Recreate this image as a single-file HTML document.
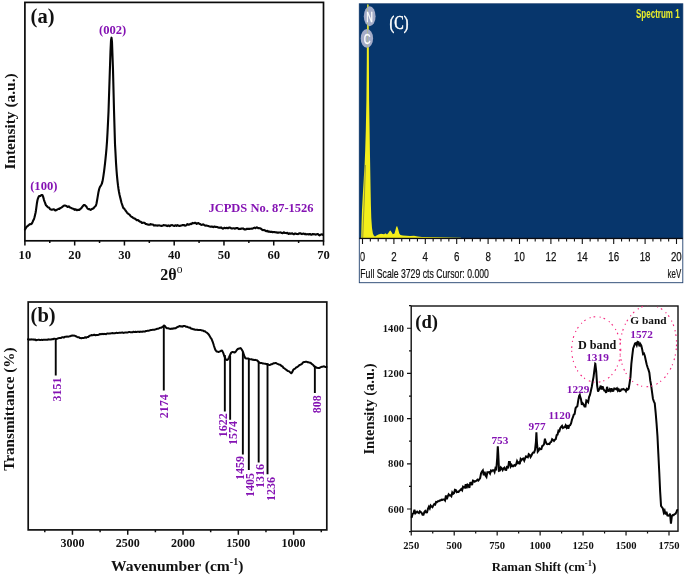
<!DOCTYPE html>
<html><head><meta charset="utf-8"><title>Figure</title>
<style>
html,body{margin:0;padding:0;background:#fff;}
body{width:685px;height:576px;overflow:hidden;}
svg{display:block;filter:blur(0.3px);}
text{font-family:"Liberation Serif",serif;font-weight:bold;fill:#111;}
.p{fill:#8412b3;}
.s{font-family:"Liberation Sans",sans-serif;font-weight:normal;}
</style></head><body>
<svg width="685" height="576" viewBox="0 0 685 576">
<rect width="685" height="576" fill="#ffffff"/>

<!-- panel a -->
<rect x="24.9" y="2.4" width="298.60" height="238.40" fill="none" stroke="#0a0a0a" stroke-width="1.7"/>
<path d="M24.90,240.8v4.8 M49.78,240.8v2.2 M74.67,240.8v4.8 M99.55,240.8v2.2 M124.43,240.8v4.8 M149.32,240.8v2.2 M174.20,240.8v4.8 M199.08,240.8v2.2 M223.97,240.8v4.8 M248.85,240.8v2.2 M273.73,240.8v4.8 M298.62,240.8v2.2 M323.50,240.8v4.8" stroke="#0a0a0a" stroke-width="1.5" fill="none"/>
<text x="24.90" y="259" font-size="12.6" text-anchor="middle">10</text>
<text x="74.67" y="259" font-size="12.6" text-anchor="middle">20</text>
<text x="124.43" y="259" font-size="12.6" text-anchor="middle">30</text>
<text x="174.20" y="259" font-size="12.6" text-anchor="middle">40</text>
<text x="223.97" y="259" font-size="12.6" text-anchor="middle">50</text>
<text x="273.73" y="259" font-size="12.6" text-anchor="middle">60</text>
<text x="323.50" y="259" font-size="12.6" text-anchor="middle">70</text>
<path d="M25.00,229.46 L25.50,228.73 L26.00,227.77 L26.50,226.92 L27.00,226.51 L27.50,226.19 L28.00,225.69 L28.50,225.23 L29.00,224.88 L29.50,224.41 L30.00,224.10 L30.50,224.20 L31.00,224.24 L31.50,223.92 L32.00,223.14 L32.50,222.18 L33.00,221.03 L33.50,219.93 L34.00,218.92 L34.50,217.24 L35.00,215.16 L35.50,212.97 L36.00,210.20 L36.50,206.46 L37.00,202.72 L37.50,199.98 L38.00,198.35 L38.50,197.08 L39.00,196.23 L39.50,195.95 L40.00,196.10 L40.50,195.96 L41.00,195.29 L41.50,195.00 L42.00,195.00 L42.50,195.27 L43.00,196.36 L43.50,198.10 L44.00,200.04 L44.50,201.44 L45.00,202.69 L45.50,204.24 L46.00,205.18 L46.50,205.67 L47.00,206.32 L47.50,206.82 L48.00,207.19 L48.50,207.43 L49.00,207.57 L49.50,208.23 L50.00,209.03 L50.50,209.38 L51.00,209.58 L51.50,209.80 L52.00,209.72 L52.50,209.51 L53.00,209.49 L53.50,209.36 L54.00,209.32 L54.50,209.62 L55.00,210.25 L55.50,210.44 L56.00,210.23 L56.50,210.07 L57.00,209.67 L57.50,209.41 L58.00,209.17 L58.50,208.83 L59.00,208.96 L59.50,208.86 L60.00,208.25 L60.50,207.90 L61.00,207.75 L61.50,207.56 L62.00,207.14 L62.50,206.69 L63.00,206.36 L63.50,205.84 L64.00,205.56 L64.50,205.59 L65.00,205.44 L65.50,205.64 L66.00,205.94 L66.50,205.99 L67.00,206.41 L67.50,206.86 L68.00,206.84 L68.50,206.49 L69.00,206.38 L69.50,206.89 L70.00,207.44 L70.50,207.64 L71.00,207.87 L71.50,208.19 L72.00,208.33 L72.50,208.59 L73.00,208.81 L73.50,208.76 L74.00,209.16 L74.50,209.82 L75.00,209.69 L75.50,209.29 L76.00,209.51 L76.50,209.99 L77.00,210.21 L77.50,210.05 L78.00,209.82 L78.50,209.86 L79.00,210.01 L79.50,209.76 L80.00,209.24 L80.50,208.82 L81.00,208.49 L81.50,207.97 L82.00,207.17 L82.50,206.54 L83.00,206.02 L83.50,205.31 L84.00,204.94 L84.50,205.06 L85.00,205.26 L85.50,205.70 L86.00,206.17 L86.50,206.77 L87.00,207.76 L87.50,208.48 L88.00,208.86 L88.50,209.12 L89.00,209.14 L89.50,209.14 L90.00,209.51 L90.50,209.91 L91.00,209.68 L91.50,209.26 L92.00,209.07 L92.50,208.75 L93.00,208.55 L93.50,208.42 L94.00,207.74 L94.50,206.94 L95.00,206.52 L95.50,206.10 L96.00,205.16 L96.50,203.45 L97.00,200.81 L97.50,197.92 L98.00,194.81 L98.50,191.89 L99.00,189.80 L99.50,188.06 L100.00,186.87 L100.50,186.12 L101.00,185.26 L101.50,184.42 L102.00,183.28 L102.50,181.35 L103.00,178.59 L103.50,175.44 L104.00,171.91 L104.50,167.91 L105.00,163.54 L105.50,158.87 L106.00,153.96 L106.50,148.37 L107.00,141.58 L107.50,132.73 L108.00,122.63 L108.50,112.01 L109.00,96.57 L109.50,81.18 L110.00,66.03 L110.50,50.98 L111.00,40.45 L111.50,37.67 L112.00,41.94 L112.50,55.89 L113.00,69.90 L113.50,89.99 L114.00,110.06 L114.50,127.10 L115.00,144.11 L115.50,153.01 L116.00,162.60 L116.50,170.04 L117.00,176.10 L117.50,181.13 L118.00,185.43 L118.50,189.00 L119.00,192.02 L119.50,194.51 L120.00,196.64 L120.50,198.63 L121.00,200.71 L121.50,202.70 L122.00,204.24 L122.50,205.70 L123.00,207.23 L123.50,208.11 L124.00,208.46 L124.50,208.99 L125.00,209.76 L125.50,210.49 L126.00,211.12 L126.50,211.78 L127.00,212.51 L127.50,213.18 L128.00,213.58 L128.50,213.83 L129.00,214.23 L129.50,214.59 L130.00,215.23 L130.50,215.94 L131.00,216.36 L131.50,216.76 L132.00,216.94 L132.50,217.27 L133.00,217.79 L133.50,218.06 L134.00,218.32 L134.50,218.54 L135.00,218.77 L135.50,219.04 L136.00,219.49 L136.50,219.99 L137.00,220.30 L137.50,220.24 L138.00,219.96 L138.50,220.38 L139.00,220.97 L139.50,221.23 L140.00,221.64 L140.50,221.82 L141.00,221.86 L141.50,222.44 L142.00,223.01 L142.50,222.89 L143.00,222.67 L143.50,222.71 L144.00,222.72 L144.50,222.72 L145.00,223.26 L145.50,223.99 L146.00,224.06 L146.50,223.98 L147.00,224.27 L147.50,224.49 L148.00,224.58 L148.50,224.80 L149.00,224.76 L149.50,224.73 L150.00,224.61 L150.50,224.12 L151.00,224.22 L151.50,224.55 L152.00,224.51 L152.50,224.55 L153.00,224.58 L153.50,224.98 L154.00,225.59 L154.50,225.46 L155.00,225.27 L155.50,225.39 L156.00,225.37 L156.50,225.44 L157.00,225.66 L157.50,225.59 L158.00,225.33 L158.50,225.46 L159.00,225.47 L159.50,225.40 L160.00,225.58 L160.50,225.68 L161.00,225.91 L161.50,225.94 L162.00,225.76 L162.50,225.71 L163.00,225.48 L163.50,225.13 L164.00,225.16 L164.50,225.31 L165.00,225.39 L165.50,225.48 L166.00,225.40 L166.50,225.43 L167.00,225.95 L167.50,226.09 L168.00,225.59 L168.50,225.42 L169.00,225.69 L169.50,226.09 L170.00,226.05 L170.50,225.50 L171.00,225.25 L171.50,225.23 L172.00,225.10 L172.50,225.20 L173.00,225.44 L173.50,225.63 L174.00,226.01 L174.50,225.95 L175.00,225.41 L175.50,225.22 L176.00,225.56 L176.50,225.82 L177.00,225.44 L177.50,225.18 L178.00,225.50 L178.50,225.64 L179.00,225.72 L179.50,225.97 L180.00,225.93 L180.50,225.66 L181.00,225.46 L181.50,225.49 L182.00,225.30 L182.50,225.08 L183.00,225.17 L183.50,225.16 L184.00,225.09 L184.50,225.29 L185.00,225.65 L185.50,225.62 L186.00,225.46 L186.50,225.16 L187.00,224.42 L187.50,224.05 L188.00,224.43 L188.50,224.73 L189.00,224.62 L189.50,224.56 L190.00,224.24 L190.50,223.74 L191.00,223.95 L191.50,224.15 L192.00,223.47 L192.50,222.93 L193.00,223.07 L193.50,223.24 L194.00,223.17 L194.50,223.00 L195.00,222.75 L195.50,222.69 L196.00,223.30 L196.50,223.91 L197.00,223.70 L197.50,223.33 L198.00,223.15 L198.50,223.11 L199.00,223.60 L199.50,223.95 L200.00,223.99 L200.50,224.32 L201.00,224.66 L201.50,224.85 L202.00,224.87 L202.50,224.64 L203.00,224.32 L203.50,224.43 L204.00,224.88 L204.50,225.21 L205.00,225.51 L205.50,225.66 L206.00,225.44 L206.50,225.47 L207.00,225.70 L207.50,225.83 L208.00,225.92 L208.50,226.09 L209.00,226.33 L209.50,226.43 L210.00,226.53 L210.50,226.70 L211.00,226.68 L211.50,226.48 L212.00,226.56 L212.50,226.73 L213.00,226.97 L213.50,227.08 L214.00,226.69 L214.50,226.49 L215.00,226.77 L215.50,226.93 L216.00,226.89 L216.50,227.02 L217.00,227.03 L217.50,227.07 L218.00,227.44 L218.50,227.67 L219.00,227.62 L219.50,227.66 L220.00,227.84 L220.50,227.62 L221.00,227.33 L221.50,227.65 L222.00,228.15 L222.50,228.54 L223.00,228.70 L223.50,228.38 L224.00,227.92 L224.50,227.70 L225.00,227.89 L225.50,228.21 L226.00,228.12 L226.50,227.78 L227.00,227.83 L227.50,228.20 L228.00,228.31 L228.50,227.96 L229.00,227.58 L229.50,227.53 L230.00,227.61 L230.50,227.81 L231.00,228.22 L231.50,228.46 L232.00,228.52 L232.50,228.45 L233.00,228.26 L233.50,228.22 L234.00,228.25 L234.50,228.45 L235.00,228.69 L235.50,228.36 L236.00,228.00 L236.50,228.15 L237.00,228.16 L237.50,228.02 L238.00,228.32 L238.50,228.94 L239.00,229.08 L239.50,228.84 L240.00,228.98 L240.50,228.94 L241.00,228.56 L241.50,228.57 L242.00,228.75 L242.50,228.60 L243.00,228.38 L243.50,228.65 L244.00,229.18 L244.50,229.49 L245.00,229.41 L245.50,229.24 L246.00,229.36 L246.50,229.08 L247.00,228.68 L247.50,228.78 L248.00,228.84 L248.50,228.80 L249.00,228.88 L249.50,228.98 L250.00,228.81 L250.50,228.68 L251.00,228.80 L251.50,228.66 L252.00,228.58 L252.50,228.67 L253.00,228.40 L253.50,228.09 L254.00,227.89 L254.50,227.68 L255.00,227.95 L255.50,228.19 L256.00,227.81 L256.50,227.46 L257.00,227.30 L257.50,227.57 L258.00,228.18 L258.50,228.27 L259.00,228.09 L259.50,228.17 L260.00,228.29 L260.50,228.45 L261.00,228.70 L261.50,229.10 L262.00,229.67 L262.50,230.07 L263.00,230.16 L263.50,229.99 L264.00,229.92 L264.50,230.12 L265.00,230.42 L265.50,230.85 L266.00,231.15 L266.50,231.16 L267.00,230.88 L267.50,230.87 L268.00,231.51 L268.50,231.70 L269.00,231.35 L269.50,231.61 L270.00,231.84 L270.50,231.82 L271.00,232.03 L271.50,231.83 L272.00,231.75 L272.50,232.18 L273.00,232.15 L273.50,232.03 L274.00,232.00 L274.50,232.01 L275.00,232.32 L275.50,232.33 L276.00,232.25 L276.50,232.37 L277.00,232.60 L277.50,232.66 L278.00,232.55 L278.50,232.65 L279.00,232.58 L279.50,232.44 L280.00,232.45 L280.50,232.38 L281.00,232.58 L281.50,232.93 L282.00,233.07 L282.50,233.20 L283.00,233.04 L283.50,232.54 L284.00,232.33 L284.50,232.67 L285.00,233.05 L285.50,233.04 L286.00,233.06 L286.50,233.11 L287.00,232.76 L287.50,232.75 L288.00,233.43 L288.50,233.91 L289.00,233.60 L289.50,233.27 L290.00,233.53 L290.50,233.81 L291.00,233.75 L291.50,233.44 L292.00,233.32 L292.50,233.55 L293.00,233.90 L293.50,234.30 L294.00,234.25 L294.50,233.68 L295.00,233.47 L295.50,233.60 L296.00,233.72 L296.50,233.90 L297.00,233.99 L297.50,234.08 L298.00,234.16 L298.50,233.85 L299.00,233.41 L299.50,233.27 L300.00,233.36 L300.50,233.34 L301.00,233.47 L301.50,233.95 L302.00,234.09 L302.50,233.85 L303.00,233.61 L303.50,233.49 L304.00,233.92 L304.50,234.20 L305.00,233.86 L305.50,234.03 L306.00,234.41 L306.50,234.29 L307.00,234.25 L307.50,234.24 L308.00,234.13 L308.50,234.42 L309.00,234.54 L309.50,234.09 L310.00,233.97 L310.50,234.33 L311.00,234.70 L311.50,234.82 L312.00,234.55 L312.50,234.10 L313.00,234.00 L313.50,234.30 L314.00,234.33 L314.50,234.14 L315.00,234.28 L315.50,234.58 L316.00,234.55 L316.50,234.34 L317.00,234.27 L317.50,234.14 L318.00,234.16 L318.50,234.53 L319.00,235.18 L319.50,235.45 L320.00,234.97 L320.50,234.73 L321.00,234.60 L321.50,234.36 L322.00,234.35 L322.50,234.48 L323.00,234.93" fill="none" stroke="#050505" stroke-width="2.1" stroke-linejoin="round" stroke-linecap="round"/>
<text x="30.6" y="23" font-size="20.5">(a)</text>
<text class="p" x="112.6" y="33.6" font-size="12.6" text-anchor="middle">(002)</text>
<text class="p" x="43.8" y="190" font-size="12.6" text-anchor="middle">(100)</text>
<text class="p" x="208.4" y="211.6" font-size="13.3" textLength="105.2" lengthAdjust="spacingAndGlyphs">JCPDS No. 87-1526</text>
<text x="171.4" y="279.7" font-size="16" text-anchor="middle">2θ<tspan dy="-6.8" font-size="11.5" style="font-weight:normal">o</tspan></text>
<text transform="translate(14.7,121.5) rotate(-90)" font-size="15.4" text-anchor="middle">Intensity (a.u.)</text>
<!-- panel c -->
<rect x="359.3" y="3.8" width="323.50" height="278.90" fill="#ffffff" stroke="#20406e" stroke-width="0.9"/>
<rect x="359.3" y="3.8" width="323.50" height="234.60" fill="#07366c"/>
<path d="M361.2,238.4 L361.5,225 L362.0,210 L362.8,195 L363.8,178 L364.6,165 L365.2,150 L365.8,130 L366.4,100 L366.8,60 L367.1,4.5 L368.6,4.5 L368.9,60 L369.1,100 L369.6,130 L370.0,156 L370.6,190 L370.9,205 L371.3,218 L372.0,228 L372.9,233.5 L373.8,235.6 L375,236.4 L376.5,235.6 L378.4,234.4 L381,233.8 L384,234.3 L385.5,233.2 L387,234.4 L388.5,232.8 L389.6,231 L390.5,230.6 L391.5,232 L392.8,234.2 L394.5,233.4 L395.6,229.5 L396.4,226.4 L397.2,226.2 L398.2,229.2 L399.3,233.5 L400.5,235 L403,235.6 L410,236 L414,235.8 L417.8,236.4 L422,237.0 L440,237.3 L461,237.7 L461,238.4 Z" fill="#f3ee1a"/>
<path d="M362.7,238.4 L363.5,218 L364.4,198 L365.4,165" stroke="#3a4650" stroke-width="0.6" opacity="0.8" fill="none"/>
<rect x="359.3" y="237.8" width="323.50" height="1.3" fill="#0b0b12"/>
<clipPath id="c0"><rect x="360.4" y="240" width="30" height="30"/></clipPath>
<path d="M362.50,238.4v5.6 M370.35,238.4v3.0 M378.20,238.4v3.0 M386.05,238.4v3.0 M393.90,238.4v5.6 M401.75,238.4v3.0 M409.60,238.4v3.0 M417.45,238.4v3.0 M425.30,238.4v5.6 M433.15,238.4v3.0 M441.00,238.4v3.0 M448.85,238.4v3.0 M456.70,238.4v5.6 M464.55,238.4v3.0 M472.40,238.4v3.0 M480.25,238.4v3.0 M488.10,238.4v5.6 M495.95,238.4v3.0 M503.80,238.4v3.0 M511.65,238.4v3.0 M519.50,238.4v5.6 M527.35,238.4v3.0 M535.20,238.4v3.0 M543.05,238.4v3.0 M550.90,238.4v5.6 M558.75,238.4v3.0 M566.60,238.4v3.0 M574.45,238.4v3.0 M582.30,238.4v5.6 M590.15,238.4v3.0 M598.00,238.4v3.0 M605.85,238.4v3.0 M613.70,238.4v5.6 M621.55,238.4v3.0 M629.40,238.4v3.0 M637.25,238.4v3.0 M645.10,238.4v5.6 M652.95,238.4v3.0 M660.80,238.4v3.0 M668.65,238.4v3.0 M676.50,238.4v5.6" stroke="#111" stroke-width="1.1" fill="none"/>
<text class="s" x="362.50" y="261" font-size="13.4" text-anchor="middle" textLength="5.4" stroke="#111" stroke-width="0.25" clip-path="url(#c0)" lengthAdjust="spacingAndGlyphs">0</text>
<text class="s" x="393.90" y="261" font-size="13.4" text-anchor="middle" textLength="5.4" stroke="#111" stroke-width="0.25" lengthAdjust="spacingAndGlyphs">2</text>
<text class="s" x="425.30" y="261" font-size="13.4" text-anchor="middle" textLength="5.4" stroke="#111" stroke-width="0.25" lengthAdjust="spacingAndGlyphs">4</text>
<text class="s" x="456.70" y="261" font-size="13.4" text-anchor="middle" textLength="5.4" stroke="#111" stroke-width="0.25" lengthAdjust="spacingAndGlyphs">6</text>
<text class="s" x="488.10" y="261" font-size="13.4" text-anchor="middle" textLength="5.4" stroke="#111" stroke-width="0.25" lengthAdjust="spacingAndGlyphs">8</text>
<text class="s" x="519.50" y="261" font-size="13.4" text-anchor="middle" textLength="10.8" stroke="#111" stroke-width="0.25" lengthAdjust="spacingAndGlyphs">10</text>
<text class="s" x="550.90" y="261" font-size="13.4" text-anchor="middle" textLength="10.8" stroke="#111" stroke-width="0.25" lengthAdjust="spacingAndGlyphs">12</text>
<text class="s" x="582.30" y="261" font-size="13.4" text-anchor="middle" textLength="10.8" stroke="#111" stroke-width="0.25" lengthAdjust="spacingAndGlyphs">14</text>
<text class="s" x="613.70" y="261" font-size="13.4" text-anchor="middle" textLength="10.8" stroke="#111" stroke-width="0.25" lengthAdjust="spacingAndGlyphs">16</text>
<text class="s" x="645.10" y="261" font-size="13.4" text-anchor="middle" textLength="10.8" stroke="#111" stroke-width="0.25" lengthAdjust="spacingAndGlyphs">18</text>
<text class="s" x="676.30" y="261" font-size="13.4" text-anchor="middle" textLength="10.8" stroke="#111" stroke-width="0.25" lengthAdjust="spacingAndGlyphs">20</text>
<text class="s" x="360.3" y="278.3" font-size="12.4" textLength="128.6" lengthAdjust="spacingAndGlyphs" stroke="#111" stroke-width="0.2">Full Scale 3729 cts Cursor: 0.000</text>
<text class="s" x="681.2" y="278.4" font-size="12.2" text-anchor="end" textLength="13.6" lengthAdjust="spacingAndGlyphs" stroke="#111" stroke-width="0.2">keV</text>
<text class="s" x="679.6" y="17.6" font-size="12.4" text-anchor="end" textLength="43.6" lengthAdjust="spacingAndGlyphs" style="font-weight:bold;fill:#eef02a">Spectrum 1</text>
<text x="389.5" y="29.4" font-size="18" textLength="19" lengthAdjust="spacingAndGlyphs" style="font-weight:normal;fill:#fff" stroke="#fff" stroke-width="0.5">(C)</text>
<ellipse cx="369.7" cy="16.2" rx="5.9" ry="10" fill="#a4acc8"/>
<ellipse cx="366.9" cy="38.4" rx="6.2" ry="9.4" fill="#a4acc8"/>
<path d="M367.6,4.5 L367.6,48" stroke="#b4c070" stroke-width="0.8" opacity="0.7"/>
<text class="s" x="369.6" y="22.3" font-size="14.5" text-anchor="middle" textLength="6.6" lengthAdjust="spacingAndGlyphs" style="fill:#fff" stroke="#fff" stroke-width="0.4">N</text>
<text class="s" x="367.1" y="44.3" font-size="14.5" text-anchor="middle" textLength="6.8" lengthAdjust="spacingAndGlyphs" style="fill:#fff" stroke="#fff" stroke-width="0.4">C</text>
<!-- panel b -->
<rect x="28.2" y="302.0" width="298.60" height="227.90" fill="none" stroke="#111" stroke-width="1.7"/>
<path d="M44.79,529.9v2.4 M72.44,529.9v4.8 M100.09,529.9v2.4 M127.73,529.9v4.8 M155.38,529.9v2.4 M183.03,529.9v4.8 M210.68,529.9v2.4 M238.33,529.9v4.8 M265.97,529.9v2.4 M293.62,529.9v4.8 M321.27,529.9v2.4" stroke="#111" stroke-width="1.5" fill="none"/>
<text x="72.44" y="547.2" font-size="12" text-anchor="middle">3000</text>
<text x="127.73" y="547.2" font-size="12" text-anchor="middle">2500</text>
<text x="183.03" y="547.2" font-size="12" text-anchor="middle">2000</text>
<text x="238.33" y="547.2" font-size="12" text-anchor="middle">1500</text>
<text x="293.62" y="547.2" font-size="12" text-anchor="middle">1000</text>
<path d="M28.00,339.35 L28.50,339.47 L29.00,339.67 L29.50,339.53 L30.00,339.53 L30.50,339.64 L31.00,339.42 L31.50,339.37 L32.00,339.52 L32.50,339.47 L33.00,339.41 L33.50,339.53 L34.00,339.70 L34.50,339.70 L35.00,339.53 L35.50,339.69 L36.00,340.16 L36.50,340.19 L37.00,339.91 L37.50,339.88 L38.00,339.80 L38.50,339.68 L39.00,339.71 L39.50,339.88 L40.00,340.11 L40.50,340.11 L41.00,339.93 L41.50,339.82 L42.00,339.82 L42.50,339.89 L43.00,339.90 L43.50,339.77 L44.00,339.73 L44.50,339.73 L45.00,339.72 L45.50,339.73 L46.00,339.79 L46.50,339.81 L47.00,339.77 L47.50,339.73 L48.00,339.50 L48.50,339.33 L49.00,339.39 L49.50,339.43 L50.00,339.47 L50.50,339.57 L51.00,339.53 L51.50,339.31 L52.00,339.10 L52.50,339.14 L53.00,339.26 L53.50,339.03 L54.00,338.69 L54.50,338.63 L55.00,338.79 L55.50,338.91 L56.00,338.96 L56.50,339.03 L57.00,338.83 L57.50,338.48 L58.00,338.37 L58.50,338.37 L59.00,338.15 L59.50,337.98 L60.00,338.02 L60.50,338.04 L61.00,337.99 L61.50,337.55 L62.00,337.20 L62.50,337.25 L63.00,337.29 L63.50,337.54 L64.00,337.58 L64.50,337.08 L65.00,336.67 L65.50,336.65 L66.00,336.81 L66.50,336.69 L67.00,336.47 L67.50,336.58 L68.00,336.74 L68.50,336.58 L69.00,336.41 L69.50,336.37 L70.00,336.32 L70.50,336.13 L71.00,335.82 L71.50,335.65 L72.00,335.54 L72.50,335.58 L73.00,335.70 L73.50,335.61 L74.00,335.55 L74.50,335.62 L75.00,335.87 L75.50,336.18 L76.00,336.28 L76.50,336.44 L77.00,336.80 L77.50,337.11 L78.00,337.32 L78.50,337.31 L79.00,337.35 L79.50,337.76 L80.00,338.12 L80.50,338.11 L81.00,338.15 L81.50,338.24 L82.00,338.06 L82.50,338.01 L83.00,337.99 L83.50,337.91 L84.00,337.92 L84.50,337.60 L85.00,337.20 L85.50,337.27 L86.00,337.66 L86.50,337.64 L87.00,337.13 L87.50,336.99 L88.00,337.08 L88.50,336.78 L89.00,336.27 L89.50,335.81 L90.00,335.57 L90.50,335.59 L91.00,335.45 L91.50,335.10 L92.00,335.07 L92.50,335.26 L93.00,335.15 L93.50,334.94 L94.00,334.81 L94.50,334.80 L95.00,335.00 L95.50,335.21 L96.00,335.18 L96.50,334.95 L97.00,334.86 L97.50,334.95 L98.00,334.98 L98.50,334.89 L99.00,334.64 L99.50,334.20 L100.00,334.04 L100.50,334.24 L101.00,334.24 L101.50,334.05 L102.00,333.84 L102.50,333.88 L103.00,334.16 L103.50,334.06 L104.00,333.82 L104.50,333.88 L105.00,333.96 L105.50,334.09 L106.00,334.16 L106.50,333.79 L107.00,333.48 L107.50,333.50 L108.00,333.55 L108.50,333.62 L109.00,333.63 L109.50,333.51 L110.00,333.42 L110.50,333.39 L111.00,333.36 L111.50,333.35 L112.00,333.19 L112.50,333.09 L113.00,333.16 L113.50,333.24 L114.00,333.37 L114.50,333.36 L115.00,333.23 L115.50,333.13 L116.00,332.86 L116.50,332.73 L117.00,332.93 L117.50,333.01 L118.00,332.97 L118.50,332.87 L119.00,332.79 L119.50,332.72 L120.00,332.62 L120.50,332.72 L121.00,332.79 L121.50,332.61 L122.00,332.43 L122.50,332.51 L123.00,332.74 L123.50,332.89 L124.00,332.84 L124.50,332.60 L125.00,332.47 L125.50,332.57 L126.00,332.54 L126.50,332.49 L127.00,332.60 L127.50,332.60 L128.00,332.40 L128.50,332.14 L129.00,331.98 L129.50,331.97 L130.00,332.15 L130.50,332.32 L131.00,332.37 L131.50,332.25 L132.00,332.28 L132.50,332.35 L133.00,332.00 L133.50,331.73 L134.00,331.89 L134.50,332.03 L135.00,331.95 L135.50,331.79 L136.00,331.85 L136.50,332.02 L137.00,331.83 L137.50,331.64 L138.00,331.68 L138.50,331.67 L139.00,331.80 L139.50,331.93 L140.00,331.78 L140.50,331.65 L141.00,331.62 L141.50,331.68 L142.00,331.81 L142.50,331.75 L143.00,331.51 L143.50,331.39 L144.00,331.52 L144.50,331.64 L145.00,331.52 L145.50,331.23 L146.00,331.08 L146.50,331.10 L147.00,330.84 L147.50,330.65 L148.00,330.74 L148.50,330.78 L149.00,330.65 L149.50,330.45 L150.00,330.33 L150.50,330.11 L151.00,329.89 L151.50,329.88 L152.00,329.90 L152.50,329.87 L153.00,329.84 L153.50,329.82 L154.00,329.76 L154.50,329.67 L155.00,329.58 L155.50,329.34 L156.00,329.17 L156.50,329.06 L157.00,328.78 L157.50,328.70 L158.00,328.71 L158.50,328.55 L159.00,328.34 L159.50,328.02 L160.00,327.85 L160.50,327.87 L161.00,327.82 L161.50,327.57 L162.00,327.17 L162.50,326.85 L163.00,326.57 L163.50,326.00 L164.00,325.46 L164.50,325.62 L165.00,326.27 L165.50,326.84 L166.00,327.48 L166.50,328.00 L167.00,328.25 L167.50,328.31 L168.00,328.26 L168.50,328.25 L169.00,328.58 L169.50,328.80 L170.00,328.77 L170.50,328.91 L171.00,328.92 L171.50,328.65 L172.00,328.54 L172.50,328.73 L173.00,328.70 L173.50,328.48 L174.00,328.32 L174.50,328.34 L175.00,328.41 L175.50,328.23 L176.00,328.00 L176.50,327.67 L177.00,327.25 L177.50,326.87 L178.00,326.77 L178.50,326.72 L179.00,326.32 L179.50,325.94 L180.00,325.97 L180.50,326.39 L181.00,326.60 L181.50,326.34 L182.00,326.44 L182.50,326.73 L183.00,326.45 L183.50,326.02 L184.00,325.93 L184.50,325.98 L185.00,326.02 L185.50,326.28 L186.00,326.72 L186.50,326.81 L187.00,326.77 L187.50,326.98 L188.00,327.23 L188.50,327.42 L189.00,327.65 L189.50,327.64 L190.00,327.49 L190.50,327.93 L191.00,328.56 L191.50,328.72 L192.00,328.66 L192.50,328.85 L193.00,329.15 L193.50,329.17 L194.00,329.32 L194.50,329.62 L195.00,329.66 L195.50,329.70 L196.00,329.77 L196.50,329.73 L197.00,329.65 L197.50,329.81 L198.00,330.02 L198.50,329.97 L199.00,329.95 L199.50,329.95 L200.00,330.06 L200.50,330.09 L201.00,330.11 L201.50,330.37 L202.00,330.53 L202.50,330.52 L203.00,330.51 L203.50,330.87 L204.00,331.29 L204.50,331.27 L205.00,331.35 L205.50,331.75 L206.00,332.11 L206.50,332.43 L207.00,332.82 L207.50,333.28 L208.00,333.82 L208.50,334.26 L209.00,334.86 L209.50,335.67 L210.00,336.60 L210.50,337.53 L211.00,338.15 L211.50,338.85 L212.00,340.04 L212.50,341.40 L213.00,342.71 L213.50,344.29 L214.00,346.03 L214.50,347.55 L215.00,349.04 L215.50,350.08 L216.00,350.79 L216.50,351.48 L217.00,351.62 L217.50,351.56 L218.00,351.77 L218.50,351.92 L219.00,351.77 L219.50,351.60 L220.00,351.42 L220.50,351.07 L221.00,350.79 L221.50,350.57 L222.00,350.60 L222.50,351.37 L223.00,352.44 L223.50,353.58 L224.00,355.16 L224.50,356.55 L225.00,357.57 L225.50,358.74 L226.00,359.59 L226.50,359.90 L227.00,360.12 L227.50,359.93 L228.00,359.18 L228.50,358.39 L229.00,357.36 L229.50,356.18 L230.00,355.10 L230.50,354.02 L231.00,353.00 L231.50,352.39 L232.00,352.16 L232.50,352.07 L233.00,352.07 L233.50,352.18 L234.00,352.31 L234.50,352.48 L235.00,352.32 L235.50,351.80 L236.00,351.24 L236.50,350.53 L237.00,349.69 L237.50,349.23 L238.00,349.01 L238.50,348.62 L239.00,348.55 L239.50,348.58 L240.00,348.24 L240.50,348.10 L241.00,348.49 L241.50,349.21 L242.00,350.03 L242.50,350.86 L243.00,351.90 L243.50,353.51 L244.00,355.20 L244.50,356.51 L245.00,357.67 L245.50,358.35 L246.00,358.41 L246.50,358.46 L247.00,358.47 L247.50,358.54 L248.00,358.62 L248.50,358.61 L249.00,358.92 L249.50,359.28 L250.00,359.37 L250.50,359.28 L251.00,359.17 L251.50,359.27 L252.00,359.51 L252.50,359.76 L253.00,359.81 L253.50,359.79 L254.00,359.98 L254.50,359.98 L255.00,359.86 L255.50,359.90 L256.00,360.10 L256.50,360.22 L257.00,360.32 L257.50,360.74 L258.00,361.26 L258.50,361.79 L259.00,362.26 L259.50,362.61 L260.00,362.96 L260.50,363.14 L261.00,363.05 L261.50,362.96 L262.00,363.15 L262.50,363.41 L263.00,363.45 L263.50,363.45 L264.00,363.55 L264.50,363.62 L265.00,363.80 L265.50,363.84 L266.00,363.91 L266.50,364.14 L267.00,364.09 L267.50,364.20 L268.00,364.54 L268.50,364.76 L269.00,364.91 L269.50,365.02 L270.00,364.96 L270.50,364.67 L271.00,364.36 L271.50,364.30 L272.00,364.19 L272.50,363.88 L273.00,363.58 L273.50,363.30 L274.00,363.13 L274.50,363.18 L275.00,363.19 L275.50,362.96 L276.00,363.02 L276.50,363.38 L277.00,363.62 L277.50,363.86 L278.00,364.08 L278.50,364.27 L279.00,364.48 L279.50,364.66 L280.00,364.75 L280.50,364.94 L281.00,365.53 L281.50,366.07 L282.00,366.19 L282.50,366.46 L283.00,367.12 L283.50,367.83 L284.00,368.17 L284.50,368.39 L285.00,368.90 L285.50,369.43 L286.00,369.70 L286.50,369.96 L287.00,370.44 L287.50,370.77 L288.00,370.97 L288.50,371.12 L289.00,371.31 L289.50,371.71 L290.00,372.08 L290.50,372.64 L291.00,373.22 L291.50,373.19 L292.00,372.50 L292.50,371.53 L293.00,370.37 L293.50,369.56 L294.00,369.17 L294.50,368.86 L295.00,368.60 L295.50,368.22 L296.00,367.60 L296.50,367.21 L297.00,367.21 L297.50,366.93 L298.00,366.41 L298.50,366.03 L299.00,365.50 L299.50,365.07 L300.00,364.97 L300.50,364.68 L301.00,364.35 L301.50,364.22 L302.00,363.80 L302.50,363.09 L303.00,362.47 L303.50,362.15 L304.00,362.06 L304.50,361.98 L305.00,361.92 L305.50,361.85 L306.00,361.79 L306.50,361.75 L307.00,361.88 L307.50,362.17 L308.00,362.29 L308.50,362.34 L309.00,362.42 L309.50,362.61 L310.00,362.82 L310.50,362.84 L311.00,363.17 L311.50,363.78 L312.00,364.10 L312.50,364.43 L313.00,364.82 L313.50,365.34 L314.00,366.08 L314.50,366.58 L315.00,366.69 L315.50,366.78 L316.00,367.27 L316.50,367.72 L317.00,367.78 L317.50,367.89 L318.00,368.07 L318.50,368.07 L319.00,368.01 L319.50,367.97 L320.00,367.66 L320.50,367.26 L321.00,367.12 L321.50,366.86 L322.00,366.66 L322.50,366.68 L323.00,366.57 L323.50,366.41 L324.00,366.33 L324.50,366.51 L325.00,366.83 L325.50,366.99 L326.00,366.98 L326.50,366.93" fill="none" stroke="#050505" stroke-width="2.0" stroke-linejoin="round" stroke-linecap="round"/>
<path d="M55.74,338.8V375.5 M163.79,326V390.5 M224.83,355V411.5 M230.14,355.5V419.7 M242.86,352V454.5 M248.83,358.8V469.9 M258.67,361.5V462.5 M267.52,363.6V474.3 M314.86,366.8V393.1" stroke="#050505" stroke-width="1.9" fill="none"/>
<text class="p" transform="translate(61.30,389.5) rotate(-90)" font-size="12" text-anchor="middle">3151</text>
<text class="p" transform="translate(167.70,406.3) rotate(-90)" font-size="12" text-anchor="middle">2174</text>
<text class="p" transform="translate(227.00,425.3) rotate(-90)" font-size="12" text-anchor="middle">1622</text>
<text class="p" transform="translate(237.00,433) rotate(-90)" font-size="12" text-anchor="middle">1574</text>
<text class="p" transform="translate(244.30,468) rotate(-90)" font-size="12" text-anchor="middle">1459</text>
<text class="p" transform="translate(253.60,484.9) rotate(-90)" font-size="12" text-anchor="middle">1405</text>
<text class="p" transform="translate(264.10,476.1) rotate(-90)" font-size="12" text-anchor="middle">1316</text>
<text class="p" transform="translate(275.30,489) rotate(-90)" font-size="12" text-anchor="middle">1236</text>
<text class="p" transform="translate(320.80,404.2) rotate(-90)" font-size="12" text-anchor="middle">808</text>
<text x="30.6" y="322" font-size="20.5">(b)</text>
<text x="177.2" y="570.8" font-size="15.6" text-anchor="middle">Wavenumber (cm<tspan dy="-5.5" font-size="10">-1</tspan><tspan dy="5.5">)</tspan></text>
<text transform="translate(14.2,409.1) rotate(-90)" font-size="15.2" text-anchor="middle">Transmittance (%)</text>
<!-- panel d -->
<rect x="411.2" y="306.0" width="266.80" height="225.20" fill="none" stroke="#111" stroke-width="1.4"/>
<path d="M411.25,531.2v4.2 M432.73,531.2v2.2 M454.21,531.2v4.2 M475.69,531.2v2.2 M497.17,531.2v4.2 M518.65,531.2v2.2 M540.12,531.2v4.2 M561.60,531.2v2.2 M583.08,531.2v4.2 M604.56,531.2v2.2 M626.04,531.2v4.2 M647.52,531.2v2.2 M669.00,531.2v4.2 M411.2,531.59h-2.2 M411.2,509.00h-4.2 M411.2,486.41h-2.2 M411.2,463.81h-4.2 M411.2,441.22h-2.2 M411.2,418.62h-4.2 M411.2,396.03h-2.2 M411.2,373.44h-4.2 M411.2,350.84h-2.2 M411.2,328.25h-4.2 M411.2,305.66h-2.2" stroke="#111" stroke-width="1.2" fill="none"/>
<text x="411.25" y="549" font-size="10.6" text-anchor="middle">250</text>
<text x="454.21" y="549" font-size="10.6" text-anchor="middle">500</text>
<text x="497.17" y="549" font-size="10.6" text-anchor="middle">750</text>
<text x="540.12" y="549" font-size="10.6" text-anchor="middle">1000</text>
<text x="583.08" y="549" font-size="10.6" text-anchor="middle">1250</text>
<text x="626.04" y="549" font-size="10.6" text-anchor="middle">1500</text>
<text x="669.00" y="549" font-size="10.6" text-anchor="middle">1750</text>
<text x="404" y="512.60" font-size="10.6" text-anchor="end">600</text>
<text x="404" y="467.41" font-size="10.6" text-anchor="end">800</text>
<text x="404" y="422.23" font-size="10.6" text-anchor="end">1000</text>
<text x="404" y="377.04" font-size="10.6" text-anchor="end">1200</text>
<text x="404" y="331.85" font-size="10.6" text-anchor="end">1400</text>
<path d="M411.75,517.12 L412.65,513.79 L413.55,513.22 L414.45,509.69 L415.35,513.31 L416.25,512.40 L417.15,511.62 L418.05,512.50 L418.95,513.11 L419.85,511.33 L420.75,512.05 L421.65,512.93 L422.55,514.87 L423.45,514.87 L424.35,512.09 L425.25,510.99 L426.15,512.40 L427.05,512.30 L427.95,508.87 L428.85,506.86 L429.75,508.50 L430.65,505.45 L431.55,506.52 L432.45,507.27 L433.35,505.41 L434.25,504.09 L435.15,504.59 L436.05,502.05 L436.95,502.26 L437.85,501.21 L438.75,501.32 L439.65,500.45 L440.55,500.45 L441.45,499.70 L442.35,499.96 L443.25,499.45 L444.15,499.27 L445.05,500.41 L445.95,495.46 L446.85,499.20 L447.75,496.37 L448.65,494.36 L449.55,495.40 L450.45,495.25 L451.35,496.16 L452.25,492.41 L453.15,493.77 L454.05,493.07 L454.95,489.81 L455.85,490.03 L456.75,492.23 L457.65,491.89 L458.55,491.99 L459.45,490.67 L460.35,489.98 L461.25,489.09 L462.15,490.24 L463.05,486.71 L463.95,487.31 L464.85,487.65 L465.75,484.26 L466.65,488.14 L467.55,484.54 L468.45,485.09 L469.35,487.84 L470.25,482.76 L471.15,482.61 L472.05,485.14 L472.95,480.58 L473.85,480.95 L474.75,481.75 L475.65,481.04 L476.55,480.63 L477.45,479.67 L478.35,480.51 L479.25,479.39 L480.15,478.14 L481.05,473.23 L481.95,471.57 L482.85,470.36 L483.75,475.25 L484.65,471.69 L485.55,475.65 L486.45,477.00 L487.35,472.27 L488.25,472.33 L489.15,472.13 L490.05,473.58 L490.95,470.53 L491.85,471.17 L492.75,470.12 L493.65,470.07 L494.55,471.92 L495.45,468.08 L496.35,468.95 L497.25,457.63 L497.40,454.00 L497.80,446.20 L498.15,452.36 L498.30,455.00 L499.05,470.86 L499.95,470.56 L500.85,467.50 L501.75,468.42 L502.65,470.04 L503.55,468.30 L504.45,467.60 L505.35,469.78 L506.25,469.87 L507.15,466.00 L508.05,468.44 L508.95,462.04 L509.85,462.01 L510.75,466.48 L511.65,464.87 L512.55,466.22 L513.45,466.22 L514.35,465.12 L515.25,465.65 L516.15,464.22 L517.05,461.07 L517.95,463.06 L518.85,462.38 L519.75,464.19 L520.65,459.07 L521.55,460.11 L522.45,458.78 L523.35,458.54 L524.25,460.60 L525.15,458.20 L526.05,456.44 L526.95,456.88 L527.85,457.31 L528.75,454.19 L529.65,454.79 L530.55,457.00 L531.45,455.46 L532.35,453.59 L533.25,452.43 L534.15,452.40 L535.05,449.79 L535.90,442.00 L535.95,441.03 L536.40,432.30 L536.85,441.03 L536.90,442.00 L537.75,451.64 L538.65,450.46 L539.55,448.53 L540.45,449.24 L541.35,449.15 L542.25,446.05 L543.15,445.59 L544.05,444.11 L544.95,438.64 L545.30,440.70 L545.85,441.79 L546.75,444.03 L547.65,444.26 L548.55,443.74 L549.45,444.08 L550.35,442.36 L551.25,441.81 L552.15,439.23 L553.05,439.94 L553.95,440.91 L554.85,439.78 L555.75,439.12 L556.65,435.21 L557.55,434.56 L558.45,430.68 L559.35,431.19 L560.25,428.11 L561.15,426.82 L562.05,425.86 L562.95,427.94 L563.85,427.37 L564.75,427.30 L565.65,425.40 L566.55,427.41 L567.45,425.12 L568.35,428.79 L569.25,425.51 L570.15,425.13 L571.05,423.43 L571.95,419.71 L572.85,417.46 L573.75,414.68 L574.65,413.94 L575.55,408.23 L576.45,407.04 L577.35,406.23 L578.25,400.35 L579.15,395.80 L579.75,394.88 L580.05,396.43 L580.95,398.91 L581.85,404.80 L582.75,403.25 L583.65,404.56 L584.55,406.55 L585.45,406.55 L586.35,400.45 L587.25,401.09 L588.15,402.16 L589.05,397.02 L589.95,394.86 L590.85,391.04 L591.75,387.04 L592.65,381.75 L593.55,376.87 L594.45,369.71 L595.25,363.69 L595.35,363.77 L596.25,371.49 L597.15,385.53 L598.05,391.49 L598.95,389.87 L599.85,388.22 L600.75,385.63 L601.65,389.54 L602.55,386.40 L603.45,388.85 L604.35,390.54 L605.25,390.78 L606.15,392.79 L607.05,386.85 L607.95,390.72 L608.85,391.06 L609.75,389.36 L610.65,390.79 L611.55,388.22 L612.45,390.91 L613.35,390.77 L614.25,388.47 L615.15,388.71 L616.05,389.20 L616.95,388.28 L617.85,390.60 L618.75,389.32 L619.65,391.09 L620.55,390.95 L621.45,389.34 L622.35,389.49 L623.25,388.92 L624.15,389.48 L625.05,389.74 L625.95,391.18 L626.85,388.89 L627.75,389.59 L628.65,388.70 L629.55,383.33 L630.45,377.10 L631.35,363.92 L632.25,355.86 L633.15,348.41 L634.05,346.21 L634.95,343.47 L635.85,343.11 L636.75,345.17 L637.65,341.91 L638.55,342.22 L639.45,346.27 L640.35,343.99 L641.25,345.41 L642.15,349.19 L643.05,354.02 L643.95,353.45 L644.85,356.03 L645.75,360.31 L646.65,364.19 L647.55,367.25 L648.45,369.68 L649.35,372.63 L650.25,380.39 L651.15,385.38 L652.05,392.20 L652.95,398.74 L653.85,401.40 L654.75,403.29 L655.65,412.69 L656.55,423.42 L657.45,435.93 L658.35,454.17 L659.25,471.98 L660.15,491.58 L661.05,505.86 L661.95,507.19 L662.85,508.47 L663.75,512.50 L664.65,510.73 L665.55,514.53 L666.45,511.82 L667.35,515.36 L668.25,515.60 L669.15,515.37 L670.05,513.70 L670.95,523.64 L671.85,516.19 L672.75,515.04 L673.65,515.25 L674.55,514.17 L675.45,513.83 L676.35,512.40 L677.25,509.97" fill="none" stroke="#050505" stroke-width="2.0" stroke-linejoin="miter" stroke-miterlimit="3" stroke-linecap="round"/>
<ellipse cx="596.2" cy="349.5" rx="24.5" ry="32.8" fill="none" stroke="#f5277f" stroke-width="1.15" stroke-dasharray="1.7 4.4 1.1 3.0"/>
<clipPath id="cd"><rect x="411.2" y="306.0" width="266.80" height="225.20"/></clipPath>
<ellipse clip-path="url(#cd)" cx="648.2" cy="346" rx="28.2" ry="40.8" transform="rotate(5 648.2 346)" fill="none" stroke="#f5277f" stroke-width="1.15" stroke-dasharray="1.7 4.4 1.1 3.0"/>
<text x="415.2" y="327.6" font-size="18.6">(d)</text>
<text class="p" x="499.9" y="444" font-size="11.3" text-anchor="middle">753</text>
<text class="p" x="537.1" y="429.8" font-size="11.3" text-anchor="middle">977</text>
<text class="p" x="559.6" y="419.2" font-size="11.3" text-anchor="middle">1120</text>
<text class="p" x="578.1" y="393" font-size="11.3" text-anchor="middle">1229</text>
<text class="p" x="597.5" y="360.5" font-size="11.3" text-anchor="middle">1319</text>
<text class="p" x="641.6" y="338" font-size="11.3" text-anchor="middle">1572</text>
<text x="597.1" y="349" font-size="12.2" text-anchor="middle">D band</text>
<text x="648.4" y="324.2" font-size="11.3" text-anchor="middle">G band</text>
<text x="544" y="571.2" font-size="12.8" text-anchor="middle">Raman Shift (cm<tspan dy="-4.8" font-size="8.6">-1</tspan><tspan dy="4.8">)</tspan></text>
<text transform="translate(374.0,409) rotate(-90)" font-size="14.6" text-anchor="middle">Intensity (a.u.)</text>
</svg></body></html>
